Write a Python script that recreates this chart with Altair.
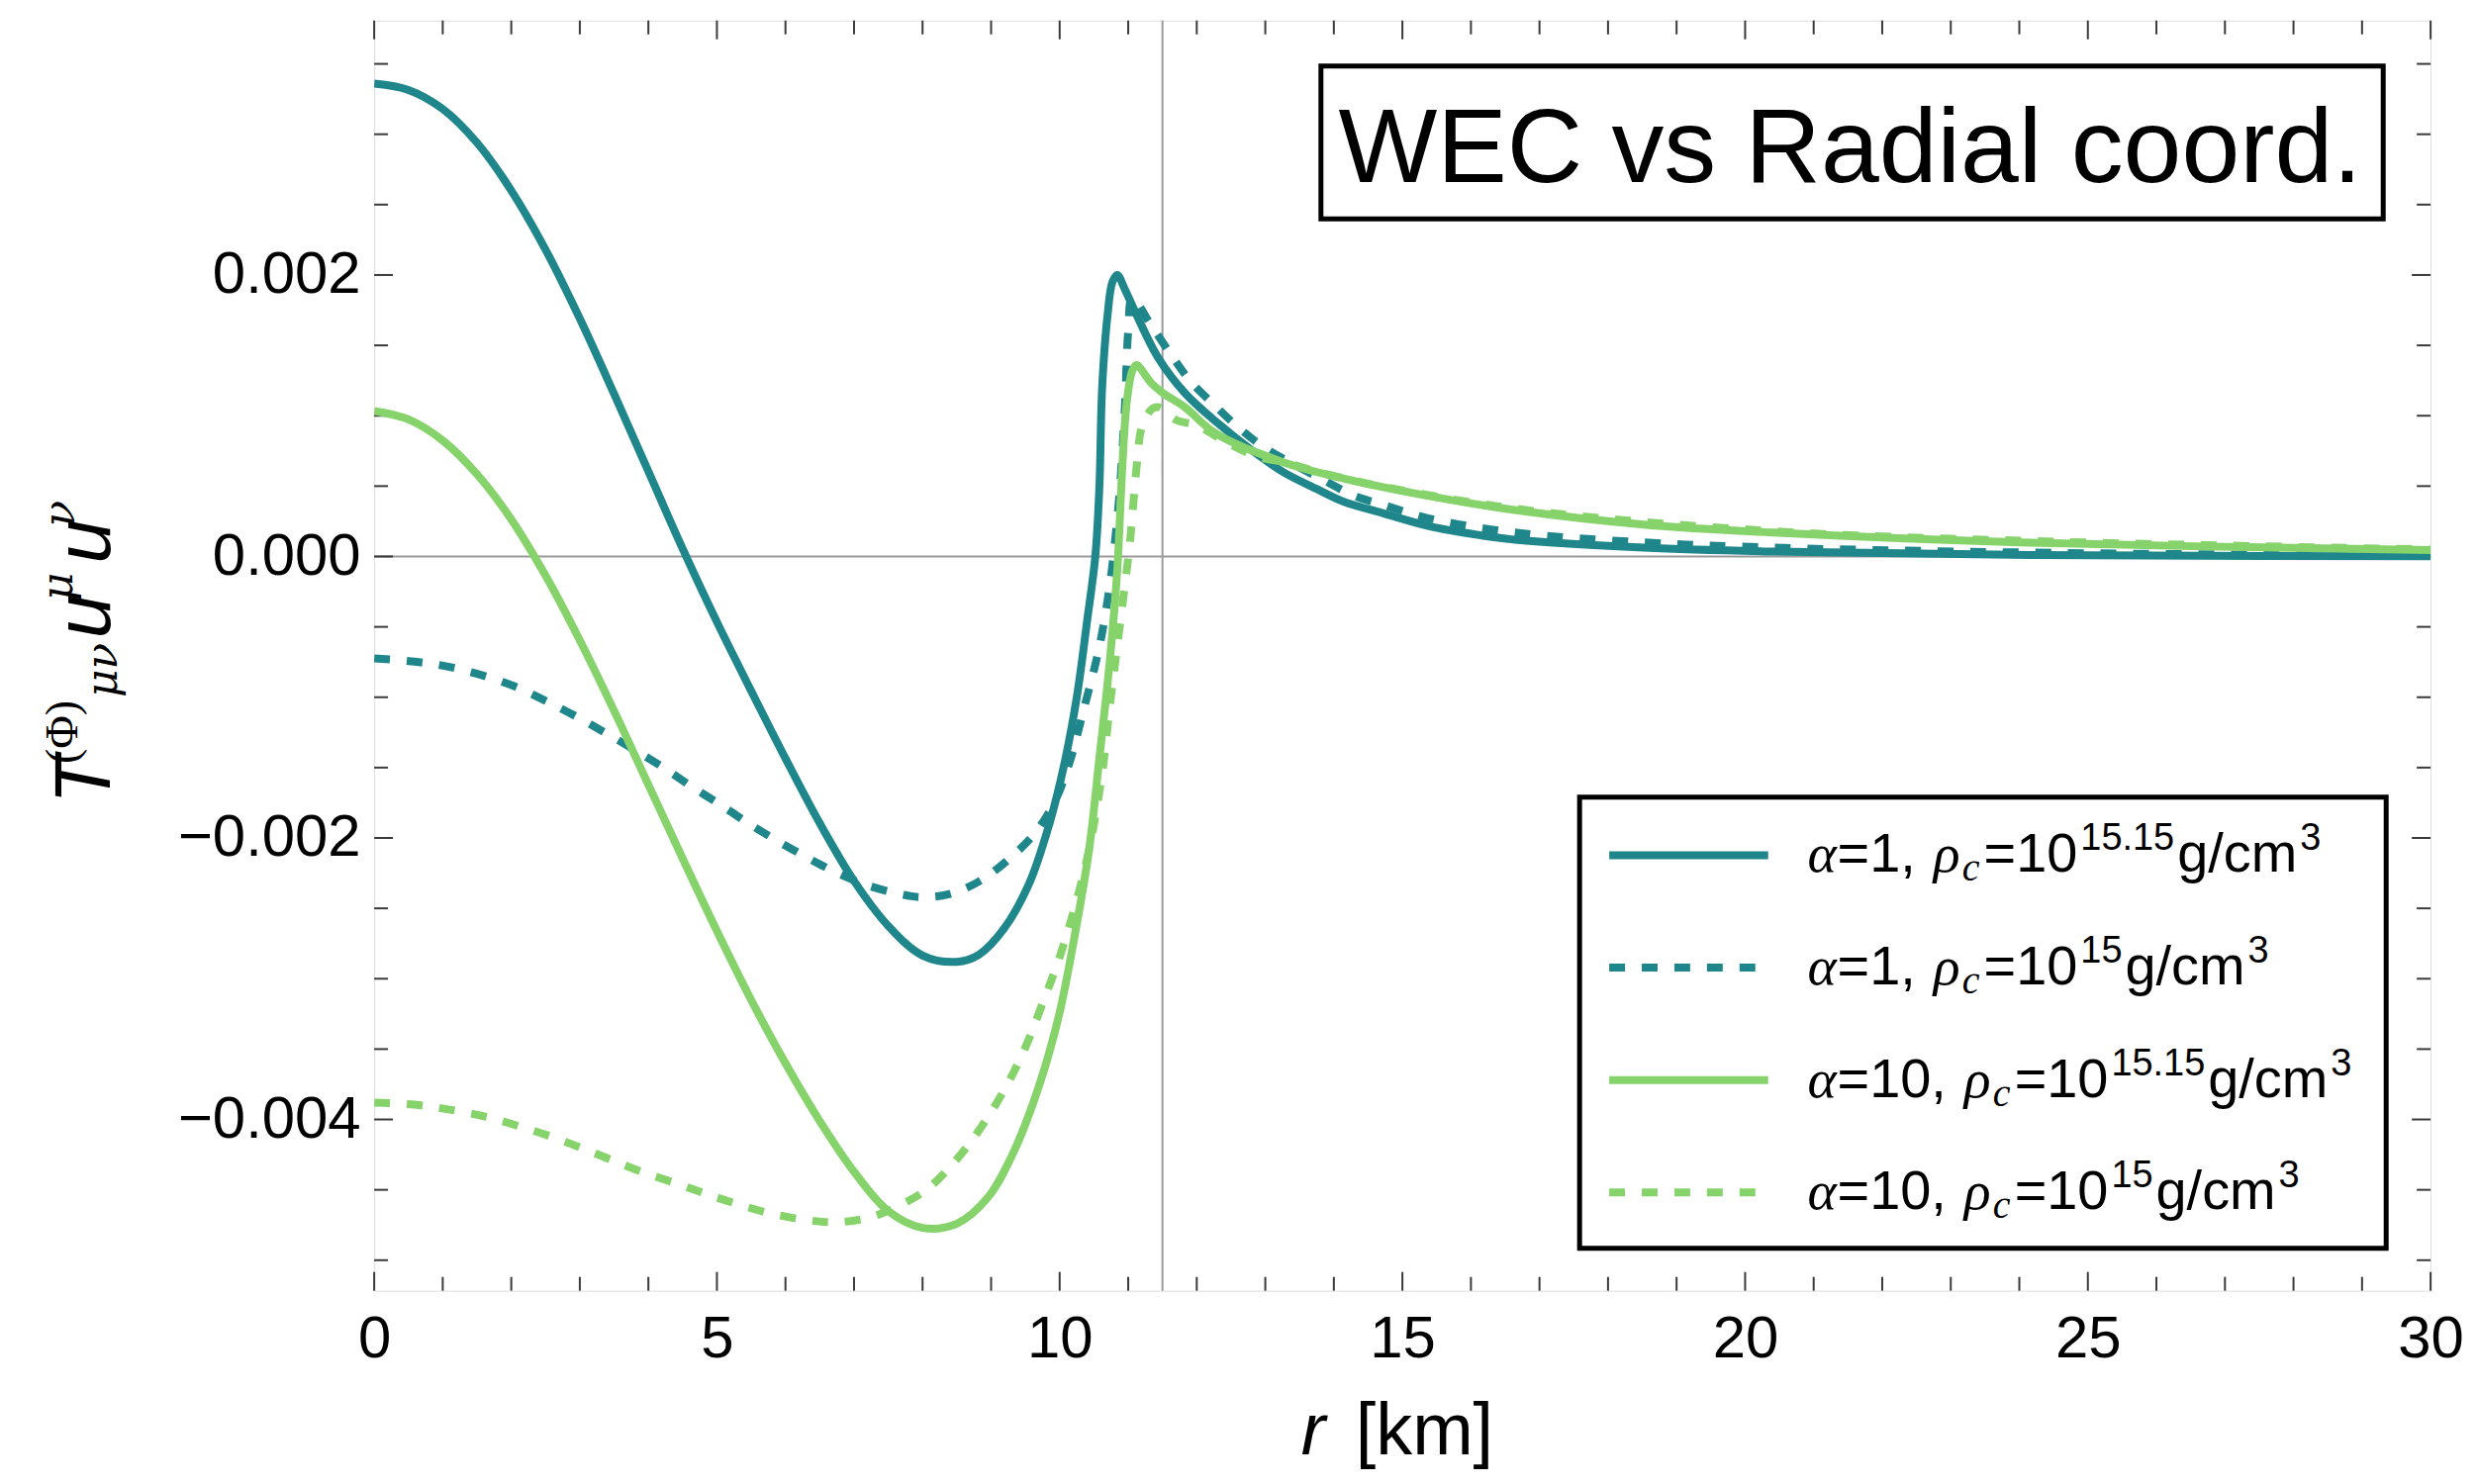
import altair as alt
import pandas as pd

# ---------------- data (in units of 1e-3) -------------
UNIT = 1e-3

r_a = [0, 0.5, 1.0, 1.5, 2.0, 2.5, 3.0, 3.5, 4.0, 4.5, 5.0, 5.5, 6.0, 6.5, 7.0, 7.5, 8.0, 8.5,
       8.82, 9.18, 9.55, 9.85, 10.07, 10.25,
       10.40, 10.52, 10.58, 10.62, 10.70, 10.77, 10.84, 10.95, 11.10, 11.44, 11.83, 12.30, 12.79,
       13.26, 13.75, 14.14, 14.70, 15.39, 16.15, 16.64, 18.52, 20.40, 24.15, 30.0]
v_a = [3.36, 3.315, 3.18, 2.94, 2.60, 2.18, 1.69, 1.155, 0.605, 0.055, -0.465, -0.955, -1.435, -1.895,
       -2.305, -2.625, -2.835, -2.88,
       -2.83, -2.65, -2.33, -1.90, -1.47, -1.00,
       -0.46, 0.0, 0.50, 1.20, 1.72, 1.95, 2.00, 1.90, 1.74, 1.41, 1.16, 0.95, 0.76,
       0.60, 0.48, 0.39, 0.31, 0.215, 0.15, 0.12, 0.063, 0.035, 0.010, 0.002]

r_b = [0, 0.59, 1.10, 1.58, 2.06, 2.50, 2.94, 3.38, 3.82, 4.22, 4.63, 5.07, 5.47, 5.88, 6.32,
       6.72, 7.16, 7.64, 7.97, 8.38, 8.82, 9.26, 9.63, 9.92, 10.14, 10.36, 10.58, 10.73, 10.80,
       10.87, 10.95, 11.00, 11.06, 11.30, 11.63, 11.90, 12.27, 12.60, 13.00, 13.90, 14.30, 14.70,
       15.39, 16.64, 18.52, 20.40, 24.15, 30.0]
v_b = [-0.724, -0.747, -0.785, -0.845, -0.925, -1.025, -1.135, -1.255, -1.38, -1.50, -1.635, -1.77, -1.90, -2.02, -2.14,
       -2.24, -2.33, -2.395, -2.42, -2.40, -2.31, -2.15, -1.97, -1.75, -1.47, -1.07, -0.64, -0.21, 0.075,
       0.43, 1.05, 1.60, 1.84, 1.67, 1.43, 1.25, 1.07, 0.92, 0.77, 0.53, 0.43, 0.37,
       0.27, 0.17, 0.10, 0.063, 0.028, 0.005]

r_c = [0, 0.5, 1.0, 1.5, 2.0, 2.5, 3.0, 3.5, 4.0, 4.5, 5.0, 5.5, 6.0, 6.5, 7.0, 7.5, 8.0, 8.5,
       8.96, 9.33, 9.70, 9.99, 10.21, 10.43,
       10.58, 10.73, 10.84, 10.91, 10.98, 11.06, 11.12, 11.34, 11.51, 11.83, 12.26, 13.26, 14.14,
       15.39, 16.64, 18.52, 20.40, 24.15, 30.0]
v_c = [1.034, 0.974, 0.824, 0.584, 0.264, -0.136, -0.596, -1.096, -1.621, -2.146, -2.661, -3.151,
       -3.601, -4.011, -4.371, -4.651, -4.77, -4.74,
       -4.55, -4.23, -3.76, -3.26, -2.72, -2.08,
       -1.43, -0.75, -0.10, 0.60, 1.10, 1.32, 1.36, 1.23, 1.16, 1.06, 0.88, 0.67, 0.555,
       0.43, 0.33, 0.227, 0.17, 0.098, 0.045]

r_d = [0, 0.59, 1.10, 1.62, 2.06, 2.57, 3.01, 3.45, 3.89, 4.41, 4.85, 5.29, 5.80, 6.32, 6.76,
       7.27, 7.71, 8.08, 8.45, 8.82, 9.18, 9.48, 9.77, 9.99, 10.21, 10.43, 10.62, 10.73, 10.84,
       10.95, 11.02, 11.06, 11.13, 11.20, 11.35, 11.45, 11.70, 12.01, 12.40, 12.88, 13.26, 14.14,
       16.64, 20.40, 24.15, 30.0]
v_d = [-3.88, -3.895, -3.93, -3.98, -4.04, -4.12, -4.20, -4.285, -4.37, -4.455, -4.53, -4.60, -4.67, -4.715, -4.73,
       -4.69, -4.60, -4.49, -4.31, -4.08, -3.80, -3.51, -3.15, -2.86, -2.51, -2.08, -1.54, -1.07, -0.64,
       -0.21, 0.075, 0.29, 0.67, 0.92, 1.05, 1.06, 0.97, 0.93, 0.82, 0.71, 0.67, 0.555,
       0.34, 0.18, 0.11, 0.05]

alpha_labels = ["=1,", "=1,", "=10,", "=10,"]
rho_exponents = ["15.15", "15", "15.15", "15"]
series_r = [r_a, r_b, r_c, r_d]
series_v = [v_a, v_b, v_c, v_d]

x_major = [0, 5, 10, 15, 20, 25, 30]
x_minor = [1, 2, 3, 4, 6, 7, 8, 9, 11, 12, 13, 14, 16, 17, 18, 19, 21, 22, 23, 24, 26, 27, 28, 29]
y_major = [-0.004, -0.002, 0.0, 0.002]
y_minor = [-0.005, -0.0045, -0.0035, -0.003, -0.0025, -0.0015, -0.001, -0.0005,
           0.0005, 0.001, 0.0015, 0.0025, 0.003, 0.0035]
r_surface = [11.5]
zero_line = [0.0]

title_text = "WEC vs Radial coord."

# ---------------- styling / layout ----------------
TEAL = "#1f878b"
GREEN = "#87d36b"
series_color = [TEAL, TEAL, GREEN, GREEN]
series_dashed = [False, True, False, True]
DASH = [16, 17]
LW = 8

W, H = 2083, 1287          # plot area
OX, OY = 379, 19           # plot origin in page pixels
SANS = "Liberation Sans"
SERIF = "Liberation Serif"
GREEK = "DejaVu Serif"
TICKC = "#3a3a3a"
GRIDC = "#9a9a9a"


def px(x):
    return x - OX


def py(y):
    return y - OY


xs = alt.Scale(domain=[0, 30], nice=False, zero=False)
ys = alt.Scale(domain=[-0.005217, 0.003808], nice=False, zero=False)

xaxis = alt.Axis(values=x_major, format="d", labelFontSize=60, labelFont=SANS, labelColor="black",
                 ticks=False, tickSize=0, domain=False, grid=False, title=None, labelPadding=20,
                 labelFlush=False, labelOverlap=False, labelLimit=1000)
yaxis = alt.Axis(values=y_major, format=".3f", labelFontSize=60, labelFont=SANS, labelColor="black",
                 ticks=False, tickSize=0, domain=False, grid=False, title=None, labelPadding=14,
                 labelFlush=False, labelOverlap=False, labelLimit=1000)

X = lambda: alt.X("r:Q", scale=xs, axis=xaxis)
Y = lambda: alt.Y("v:Q", scale=ys, axis=yaxis)

one = alt.Data(values=[{"k": 1}])

layers = []

# reference lines
layers.append(alt.Chart(pd.DataFrame({"v": zero_line})).mark_rule(color=GRIDC, strokeWidth=2)
              .encode(y=Y(), x=alt.value(0), x2=alt.value(W)))
layers.append(alt.Chart(pd.DataFrame({"r": r_surface})).mark_rule(color=GRIDC, strokeWidth=2)
              .encode(x=X(), y=alt.value(0), y2=alt.value(H)))

# frame ticks (inside, on all four sides)
for vals, ln in ((x_major, 19), (x_minor, 14)):
    d = pd.DataFrame({"r": vals})
    layers.append(alt.Chart(d).mark_rule(color=TICKC, strokeWidth=2)
                  .encode(x=X(), y=alt.value(H), y2=alt.value(H - ln)))
    layers.append(alt.Chart(d).mark_rule(color=TICKC, strokeWidth=2)
                  .encode(x=X(), y=alt.value(0), y2=alt.value(ln)))
for vals, ln in ((y_major, 19), (y_minor, 14)):
    d = pd.DataFrame({"v": vals})
    layers.append(alt.Chart(d).mark_rule(color=TICKC, strokeWidth=2)
                  .encode(y=Y(), x=alt.value(0), x2=alt.value(ln)))
    layers.append(alt.Chart(d).mark_rule(color=TICKC, strokeWidth=2)
                  .encode(y=Y(), x=alt.value(W), x2=alt.value(W - ln)))

# curves
for rr, vv, col, dashed in zip(series_r, series_v, series_color, series_dashed):
    df = pd.DataFrame({"r": rr, "v": [v * UNIT for v in vv]})
    kw = dict(color=col, strokeWidth=LW, interpolate="catmull-rom", clip=True)
    if dashed:
        kw["strokeDash"] = DASH
    layers.append(alt.Chart(df).mark_line(**kw).encode(x=X(), y=Y()))


def text_layer(txt, x, y, size, font=SANS, style="normal", weight="normal", angle=0, align="left"):
    return (alt.Chart(one)
            .mark_text(text=txt, font=font, fontSize=size, fontStyle=style, fontWeight=weight,
                       angle=angle, align=align, baseline="alphabetic", color="black")
            .encode(x=alt.value(x), y=alt.value(y)))


def box_layer(x1, y1, x2, y2):
    return (alt.Chart(one).mark_rect(fill="white", stroke="black", strokeWidth=5)
            .encode(x=alt.value(x1), x2=alt.value(x2), y=alt.value(y1), y2=alt.value(y2)))


# title box
layers.append(box_layer(px(1338), py(65), px(2414), py(220)))
layers.append(text_layer(title_text, px(1874), py(183), 106, align="center"))

# legend box
layers.append(box_layer(px(1600), py(806), px(2417), py(1263)))

ARIAL = {'=': 0.584, '0': 0.556, '1': 0.556, '2': 0.556, '3': 0.556, '5': 0.556, ',': 0.278,
         '.': 0.278, 'g': 0.556, '/': 0.278, 'c': 0.5, 'm': 0.833}


def tw(s, size):
    return sum(ARIAL[ch] for ch in s) * size


MAIN, SUP = 56, 38
for i in range(4):
    base = 881.7 + 113.9 * i
    ly = base - 17
    kw = dict(color=series_color[i], strokeWidth=LW)
    if series_dashed[i]:
        kw["strokeDash"] = DASH
    layers.append(alt.Chart(one).mark_rule(**kw)
                  .encode(x=alt.value(px(1630)), x2=alt.value(px(1791)), y=alt.value(py(ly))))
    x = 1831
    layers.append(text_layer("α", px(x), py(base), MAIN, font=SERIF, style="italic"))
    x += 30
    layers.append(text_layer(alpha_labels[i], px(x), py(base), MAIN))
    x += tw(alpha_labels[i], MAIN) + 18
    layers.append(text_layer("ρ", px(x), py(base), MAIN, font=SERIF, style="italic"))
    x += 29
    layers.append(text_layer("c", px(x), py(base + 9), 40, font=SERIF, style="italic"))
    x += 22
    layers.append(text_layer("=10", px(x), py(base), MAIN))
    x += tw("=10", MAIN) + 3
    layers.append(text_layer(rho_exponents[i], px(x), py(base - 22), SUP))
    x += tw(rho_exponents[i], SUP) + 3
    layers.append(text_layer("g/cm", px(x), py(base), MAIN))
    x += tw("g/cm", MAIN) + 3
    layers.append(text_layer("3", px(x), py(base - 22), SUP))

# y-axis title  T^(Φ)_{μν} u^μ u^ν  (rotated)
ytitle = [
    ("T", 111, 813, 80, SANS, "italic", "normal"),
    ("(Φ)", 78, 772, 46, SERIF, "normal", "normal"),
    ("μν", 118, 705, 44, GREEK, "italic", "normal"),
    ("u", 111, 645, 80, SANS, "italic", "normal"),
    ("μ", 73, 607, 44, GREEK, "italic", "normal"),
    ("u", 111, 569, 80, SANS, "italic", "normal"),
    ("ν", 75, 532, 44, GREEK, "italic", "normal"),
]
for t, x, y, s, f, st, wt in ytitle:
    layers.append(text_layer(t, px(x), py(y), s, font=f, style=st, weight=wt, angle=270))

# x-axis title  r [km]
layers.append(text_layer("r", px(1318), py(1472), 74, style="italic"))
layers.append(text_layer("[km]", px(1373), py(1472), 74))

chart = (alt.layer(*layers)
         .properties(width=W, height=H,
                     autosize=alt.AutoSizeParams(type="none"),
                     padding={"left": OX - 8, "top": OY - 8, "right": 40, "bottom": 180})
         .configure_view(stroke="#3a3a3a", strokeWidth=2)
         .configure(font=SANS, background="white"))

chart.save("out.html", embed_options={"renderer": "svg", "actions": False})
